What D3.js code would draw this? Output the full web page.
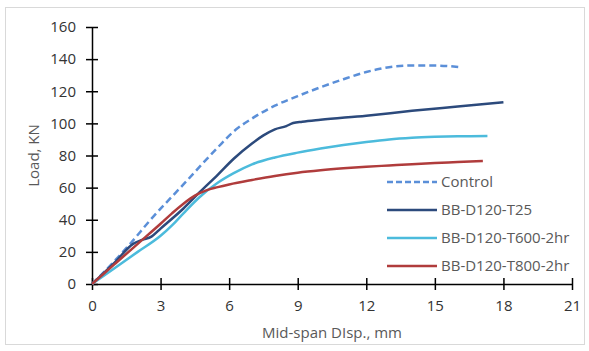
<!DOCTYPE html>
<html>
<head>
<meta charset="utf-8">
<script src="https://cdn.jsdelivr.net/npm/d3@7"></script>
<style>
  body { margin: 0; background: #fff; }
  text { font-family: "Open Sans", sans-serif; }
</style>
</head>
<body>
<svg id="chart" width="589" height="351"></svg>
<script>
const xTicks = [0, 3, 6, 9, 12, 15, 18, 21];
const yTicks = [0, 20, 40, 60, 80, 100, 120, 140, 160];
const seriesNames = ['Control', 'BB-D120-T25', 'BB-D120-T600-2hr', 'BB-D120-T800-2hr'];

const control = [[0, 0], [1, 14.5], [1.7, 25.5], [2.5, 39], [4, 62], [5.5, 85], [6.2, 95], [7, 103], [8, 111],
  [9, 117], [10, 122.5], [11, 127.5], [12, 132], [12.6, 134], [13.2, 135.4], [14, 136], [15, 136], [16.1, 135]];
const t25 = [[0, 0], [1, 13.5], [1.8, 25], [2.2, 27.5], [2.6, 29.5], [3, 34.5], [4, 47], [4.7, 57], [5.5, 68],
  [6.2, 78], [7, 87.5], [7.5, 92.5], [8, 96.3], [8.5, 98.3], [8.8, 100.2], [9.2, 101], [10, 102.2], [12, 104.8],
  [14, 107.8], [16, 110.5], [18, 113.2]];
const t600 = [[0, 0], [1, 10], [2, 20], [3, 30], [3.5, 36.5], [4, 44], [4.7, 54], [5.5, 63], [6.2, 69],
  [7, 74.5], [8, 78.8], [9, 81.8], [10, 84.3], [11, 86.5], [12, 88.4], [13, 90], [14, 91], [15, 91.6],
  [16, 92], [17.3, 92.2]];
const t800 = [[0, 0], [1, 12.5], [2, 25], [3, 37.5], [3.5, 44], [4, 50], [4.5, 55], [5, 58.3], [5.5, 60.3],
  [6, 62], [7, 64.8], [8, 67.3], [9, 69.3], [10, 70.8], [11, 72], [12, 73], [13, 73.8], [14, 74.6],
  [15, 75.3], [16, 75.9], [17.1, 76.6]];

const series = [
  { name: seriesNames[0], values: control, color: '#5b8fd8', dash: '7,4' },
  { name: seriesNames[1], values: t25, color: '#2c4a7c', dash: null },
  { name: seriesNames[2], values: t600, color: '#4cbbdc', dash: null },
  { name: seriesNames[3], values: t800, color: '#b03c3c', dash: null },
];

const svg = d3.select('#chart');

// outer frame
svg.append('rect')
  .attr('x', 5.5).attr('y', 7.5)
  .attr('width', 579).attr('height', 337)
  .attr('fill', 'none')
  .attr('stroke', '#d9d9d9');

const x = d3.scaleLinear().domain([0, 21]).range([92, 572]);
const y = d3.scaleLinear().domain([0, 160]).range([284, 27]);

const line = d3.line()
  .x(d => x(d[0]))
  .y(d => y(d[1]))
  .curve(d3.curveMonotoneX);

// axes
const xAxis = svg.append('g')
  .attr('transform', `translate(0,${y(0)})`)
  .call(d3.axisBottom(x).tickValues(xTicks).tickSizeInner(6).tickSizeOuter(0).tickPadding(10));
const yAxis = svg.append('g')
  .attr('transform', `translate(${x(0)},0)`)
  .call(d3.axisLeft(y).tickValues(yTicks).tickSizeInner(6).tickSizeOuter(0).tickPadding(10));

for (const ax of [xAxis, yAxis]) {
  ax.select('.domain').attr('stroke', '#000').attr('stroke-width', 1.5);
  ax.selectAll('.tick text')
    .style('font-size', '15px')
    .attr('fill', '#333');
}
// ticks cross the axis
xAxis.selectAll('.tick line').attr('y1', -6).attr('stroke', '#000').attr('stroke-width', 1.5);
yAxis.selectAll('.tick line').attr('x1', 6).attr('stroke', '#000').attr('stroke-width', 1.5);

// lines
svg.append('g')
  .selectAll('path')
  .data(series)
  .join('path')
  .attr('d', d => line(d.values))
  .attr('fill', 'none')
  .attr('stroke', d => d.color)
  .attr('stroke-width', 2.5)
  .attr('stroke-dasharray', d => d.dash);

// axis titles
svg.append('text')
  .attr('x', (x(0) + x(21)) / 2)
  .attr('y', 338)
  .attr('text-anchor', 'middle')
  .style('font-size', '15px')
  .attr('fill', '#595959')
  .text('Mid-span DIsp., mm');

svg.append('text')
  .attr('transform', `translate(39,${(y(0) + y(160)) / 2}) rotate(-90)`)
  .attr('text-anchor', 'middle')
  .style('font-size', '15px')
  .attr('fill', '#595959')
  .text('Load, KN');

// legend
const legend = svg.append('g')
  .selectAll('g')
  .data(series)
  .join('g')
  .attr('transform', (d, i) => `translate(387,${182 + i * 28})`);

legend.append('line')
  .attr('x1', 0).attr('x2', 50)
  .attr('stroke', d => d.color)
  .attr('stroke-width', 2.5)
  .attr('stroke-dasharray', d => d.dash ? '6,3' : null);

legend.append('text')
  .attr('x', 54)
  .attr('dy', '0.35em')
  .style('font-size', '15px')
  .attr('fill', '#595959')
  .text(d => d.name);
</script>
</body>
</html>
